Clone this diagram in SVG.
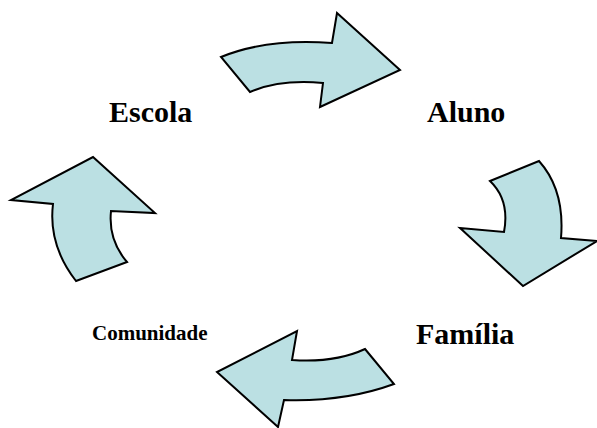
<svg xmlns="http://www.w3.org/2000/svg" width="597" height="428" viewBox="0 0 597 428">
<style>
.arrow{fill:#BBE0E3;stroke:#000;stroke-width:2;stroke-linejoin:miter}
.lbl{font-family:"Liberation Serif","Times New Roman",serif;font-weight:bold;fill:#000}
</style>
<rect width="597" height="428" fill="#fff"/>
<g id="connectors">
<path id="arrow-top" class="arrow" d="M221,57 Q268,38 332,43 L337,13 L400,70 L320,107 L323,83 Q280,79 250,92 Z"/>
<path id="arrow-right" class="arrow" d="M490,181 L539,161 Q565,190 561,238 L597,241 L523,286 L460,228 L504,232 Q510,200 490,181 Z"/>
<path id="arrow-bottom" class="arrow" d="M365,349 L394,384 Q345,402 284,400 L278,427 L217,372 L297,331 L292,360 Q335,363 365,349 Z"/>
<path id="arrow-left" class="arrow" d="M76,281 L127,262 Q108,240 111,211 L155,213 L93,157 L11,200 L53,204 Q48,245 76,281 Z"/>
</g>
<g id="node-escola"><text class="lbl" x="109" y="122" font-size="30">Escola</text></g>
<g id="node-aluno"><text class="lbl" x="427" y="122" font-size="30">Aluno</text></g>
<g id="node-familia"><text class="lbl" x="416" y="344" font-size="30">Família</text></g>
<g id="node-comunidade"><text class="lbl" x="92" y="340" font-size="21">Comunidade</text></g>
</svg>
